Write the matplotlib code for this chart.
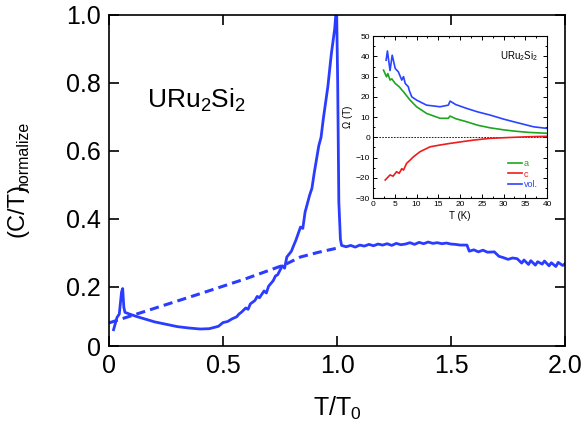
import matplotlib
matplotlib.use("Agg")
from matplotlib import pyplot as plt
from matplotlib.ticker import MultipleLocator

plt.rcParams["font.family"] = ["Liberation Sans", "DejaVu Sans"]
plt.rcParams["mathtext.fontset"] = "custom"
plt.rcParams["mathtext.rm"] = "Liberation Sans"
plt.rcParams["mathtext.it"] = "Liberation Sans"

# -- main curve: C/T normalized vs T/T0 --------------------------------------
t_ratio = [0.02, 0.035, 0.045, 0.055, 0.06, 0.065, 0.07, 0.09, 0.12, 0.16,
           0.20, 0.25, 0.30, 0.35, 0.40, 0.44, 0.48, 0.50, 0.52, 0.54,
           0.56, 0.57, 0.58, 0.60, 0.61, 0.62, 0.64, 0.65, 0.66, 0.68,
           0.69, 0.70, 0.72, 0.73, 0.74, 0.76, 0.77, 0.78, 0.80, 0.81,
           0.82, 0.84, 0.85, 0.86, 0.88, 0.89, 0.90, 0.92, 0.93, 0.94,
           0.96, 0.975, 0.99, 0.998, 1.003, 1.008, 1.015, 1.02,
           1.04, 1.06, 1.08, 1.10, 1.12, 1.14, 1.16, 1.18, 1.20, 1.22,
           1.24, 1.26, 1.28, 1.30, 1.32, 1.34, 1.36, 1.38, 1.40, 1.42,
           1.44, 1.46, 1.48, 1.50, 1.52, 1.54, 1.57, 1.58, 1.60, 1.62,
           1.64, 1.66, 1.69, 1.71, 1.73, 1.75, 1.77, 1.79, 1.81, 1.82,
           1.84, 1.85, 1.87, 1.88, 1.90, 1.91, 1.93, 1.94, 1.96, 1.97,
           1.99, 2.00]
ct_norm = [0.074, 0.110, 0.120, 0.185, 0.195, 0.140, 0.125, 0.120, 0.113, 0.105,
           0.097, 0.090, 0.083, 0.079, 0.076, 0.077, 0.084, 0.095, 0.098, 0.106,
           0.112, 0.120, 0.125, 0.138, 0.134, 0.150, 0.160, 0.172, 0.168, 0.188,
           0.182, 0.202, 0.218, 0.232, 0.236, 0.262, 0.255, 0.288, 0.305, 0.322,
           0.338, 0.376, 0.372, 0.420, 0.470, 0.490, 0.535, 0.615, 0.640, 0.695,
           0.790, 0.885, 0.960, 1.030, 0.800, 0.450, 0.340, 0.322,
           0.318, 0.322, 0.317, 0.323, 0.320, 0.325, 0.321, 0.326, 0.323, 0.327,
           0.322, 0.328, 0.324, 0.326, 0.330, 0.325, 0.331, 0.327, 0.332, 0.328,
           0.330, 0.327, 0.329, 0.326, 0.325, 0.323, 0.323, 0.305, 0.309, 0.303,
           0.308, 0.302, 0.303, 0.290, 0.286, 0.281, 0.285, 0.283, 0.270, 0.279,
           0.266, 0.277, 0.264, 0.274, 0.267, 0.276, 0.262, 0.271, 0.260, 0.272,
           0.263, 0.268]

# extrapolated normal-state line (dashed)
t_normal = [0.0, 0.2, 0.4, 0.6, 0.77, 0.84, 0.92, 1.0]
ct_normal = [0.094, 0.137, 0.180, 0.224, 0.265, 0.288, 0.302, 0.314]

# -- inset: Omega(T) for a, c and volume --------------------------------------
temp_a = [2.4, 3.1, 3.4, 3.9, 4.3, 5.1, 6.0, 7.0, 8.5, 10.0, 12.3, 15.4,
          17.3, 17.7, 19.0, 21.5, 24.0, 26.9, 30.0, 32.3, 36.0, 40.0]
omega_a = [33.2, 29.9, 31.5, 28.3, 28.9, 26.6, 25.0, 22.5, 18.4, 15.1, 11.8, 9.4,
           9.4, 10.5, 9.2, 7.7, 6.0, 4.7, 3.7, 3.1, 2.4, 2.0]

temp_c = [2.8, 3.9, 4.6, 5.4, 6.0, 6.6, 7.0, 7.7, 8.4, 9.3, 10.8, 13.1,
          15.4, 17.7, 20.0, 23.0, 26.9, 32.3, 36.0, 40.0]
omega_c = [-21.1, -18.6, -19.2, -17.0, -17.8, -15.5, -16.2, -12.9, -11.5, -9.6, -7.1, -4.7,
           -3.8, -3.0, -2.3, -1.4, -0.5, 0.0, 0.3, 0.5]

temp_vol = [3.0, 3.3, 3.9, 4.4, 5.1, 5.8, 6.6, 7.0, 7.4, 8.1, 8.3, 8.9,
            10.0, 12.3, 15.4, 17.3, 17.7, 19.0, 21.5, 24.0, 26.9, 30.0, 32.3, 36.9, 40.0]
omega_vol = [38.1, 42.7, 33.0, 40.6, 34.0, 32.4, 28.3, 30.0, 26.6, 25.0, 23.3, 20.0,
             18.4, 15.9, 15.1, 15.9, 17.9, 16.2, 14.3, 12.6, 11.0, 9.0, 7.7, 5.2, 4.4]

blue = "#2a3cff"

fig = plt.figure(figsize=(5.82, 4.41), dpi=100)
ax = fig.add_axes((0.1873, 0.2154, 0.7835, 0.7506))

ax.plot(t_ratio, ct_norm, color=blue, lw=2.0, solid_joinstyle="round")
ax.plot(t_normal, ct_normal, color=blue, lw=2.2, ls=(0, (3, 1.7)))

ax.set_xlim(0, 2.0)
ax.set_ylim(0.026, 1.0)
ax.set_xticks([0, 0.5, 1.0, 1.5, 2.0])
ax.set_xticklabels(["0", "0.5", "1.0", "1.5", "2.0"])
ax.set_yticks([0.026, 0.2, 0.4, 0.6, 0.8, 1.0])
ax.set_yticklabels(["0", "0.2", "0.4", "0.6", "0.8", "1.0"])
ax.tick_params(direction="in", length=7, width=1.2, labelsize=18,
               top=True, right=True, pad=6)
for sp in ax.spines.values():
    sp.set_linewidth(1.2)

ax.set_xlabel("T/T$_0$", fontsize=18, labelpad=12)

# y label: big "(C/T)" with a small "normalize" subscript
fig.text(0.030, 0.462, "(C/T)", fontsize=17, rotation=90,
         ha="center", va="bottom")
fig.text(0.040, 0.570, "normalize", fontsize=11.5, rotation=90,
         ha="center", va="bottom")

ax.text(0.084, 0.72, "URu$_2$Si$_2$", fontsize=19, transform=ax.transAxes,
        ha="left", va="baseline")

# inset
axin = fig.add_axes((0.641, 0.551, 0.299, 0.367))
axin.axhline(0, color="black", lw=0.6, ls=(0, (2, 1.5)))
axin.plot(temp_a, omega_a, color="#1fa51f", lw=1.2, label="a")
axin.plot(temp_c, omega_c, color="#ee1c1c", lw=1.2, label="c")
axin.plot(temp_vol, omega_vol, color="#2a44ff", lw=1.2, label="vol.")
axin.set_xlim(0, 40)
axin.set_ylim(-30, 50)
axin.xaxis.set_major_locator(MultipleLocator(5))
axin.xaxis.set_minor_locator(MultipleLocator(2.5))
axin.yaxis.set_major_locator(MultipleLocator(10))
axin.yaxis.set_minor_locator(MultipleLocator(5))
axin.tick_params(which="both", direction="in", top=True, right=True,
                 labelsize=6, width=0.7, pad=2)
axin.tick_params(which="major", length=3)
axin.tick_params(which="minor", length=1.5)
for sp in axin.spines.values():
    sp.set_linewidth(0.8)
axin.set_xlabel("T (K)", fontsize=7, labelpad=2)
axin.set_ylabel("Ω (T)", fontsize=7, labelpad=2)
axin.text(0.95, 0.92, "URu$_2$Si$_2$", fontsize=7, transform=axin.transAxes,
          ha="right", va="top")
axin.legend(loc="lower right", fontsize=6.5, frameon=False, handlelength=1.6,
            handletextpad=0.2, labelspacing=0.15, labelcolor="linecolor",
            borderaxespad=0.6)

fig.savefig("out.png", dpi=100)
